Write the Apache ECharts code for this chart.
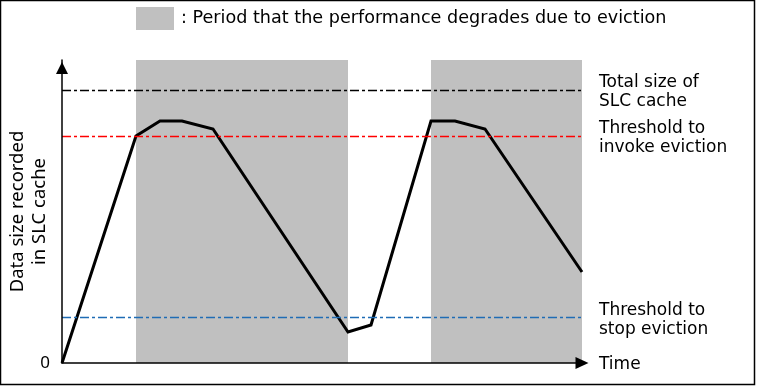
<!DOCTYPE html>
<html>
<head>
<meta charset="utf-8">
<script src="https://cdn.jsdelivr.net/npm/echarts@6/dist/echarts.min.js"></script>
<style>
html,body{margin:0;padding:0;background:#fff;}
#chart{width:757px;height:386px;}
</style>
</head>
<body>
<div id="chart"></div>
<script>
// Time (x) and data size recorded in SLC cache (y), in chart units
var timeValues = [0, 74, 98, 120, 151, 286, 309, 369, 393, 423, 520];
var dataSize   = [0, 227, 242, 242, 234, 31, 38, 242, 242, 234, 91];
// Periods where performance degrades due to eviction [start, end]
var evictionPeriods = [[74, 286], [369, 520]];
// Horizontal reference levels
var totalSizeLevel = 273;
var invokeLevel = 227;
var stopLevel = 46;
var legendText = ': Period that the performance degrades due to eviction';
var totalLabel = 'Total size of\nSLC cache';
var invokeLabel = 'Threshold to\ninvoke eviction';
var stopLabel = 'Threshold to\nstop eviction';
var xName = 'Time';
var yName = 'Data size recorded\nin SLC cache';
var xMax = 520, yMax = 303;

var FONT = 'Noto Sans';
var WIDE = 'DejaVu Sans';
var chart = echarts.init(document.getElementById('chart'), null, {renderer: 'canvas'});

var lineData = timeValues.map(function (t, i) { return [t, dataSize[i]]; });
var areaData = evictionPeriods.map(function (p) { return [{xAxis: p[0]}, {xAxis: p[1]}]; });

function ml(y, color, label, dy) {
  return {
    yAxis: y,
    lineStyle: {color: color, type: [9, 3, 3, 3], width: 1.4, opacity: 1},
    label: {show: true, position: 'end', formatter: label, distance: 17,
            color: '#000', fontSize: 17, lineHeight: 19, fontFamily: WIDE, align: 'left',
            offset: [0, dy]}
  };
}

chart.setOption({
  animation: false,
  textStyle: {fontFamily: FONT},
  graphic: [{
    type: 'rect', shape: {x: 0.5, y: 0.5, width: 754, height: 384},
    style: {fill: 'none', stroke: '#000', lineWidth: 1.5}, z: 100
  }],
  legend: {
    data: [legendText], left: 136, top: 7, icon: 'rect', padding: 0,
    itemWidth: 38, itemHeight: 23,
    textStyle: {fontSize: 17.6, color: '#000', fontFamily: WIDE, padding: [3, 0, 0, 2]}
  },
  grid: {left: 62, right: 175, top: 60, bottom: 23, containLabel: false, outerBoundsMode: 'none'},
  xAxis: {
    type: 'value', min: 0, max: xMax, z: 5,
    name: xName, nameLocation: 'end', nameGap: 17,
    nameTextStyle: {fontSize: 17, color: '#000', fontFamily: WIDE, verticalAlign: 'top', lineHeight: 19, padding: [-8, 0, 0, 0]},
    axisLine: {show: true, lineStyle: {color: '#000', width: 1.5}, symbol: ['none', 'triangle'], symbolSize: [12, 13]},
    axisTick: {show: false}, axisLabel: {show: false}, splitLine: {show: false}
  },
  yAxis: {
    type: 'value', min: 0, max: yMax, interval: yMax, z: 5,
    name: yName, nameLocation: 'middle', nameGap: 11, nameRotate: 90, nameMoveOverlap: false,
    nameTextStyle: {fontSize: 18.5, lineHeight: 22, color: '#000', fontFamily: FONT},
    axisLine: {show: true, lineStyle: {color: '#000', width: 1.5}, symbol: ['none', 'triangle'], symbolSize: [12, 12], symbolOffset: [0, -8]},
    axisTick: {show: false},
    axisLabel: {show: true, margin: 12, fontSize: 17, color: '#000', fontFamily: FONT,
      formatter: function (v) { return v === 0 ? '0' : ''; }},
    splitLine: {show: false}
  },
  series: [
    {
      name: legendText, type: 'line', data: [], z: 1,
      itemStyle: {color: '#c0c0c0'}, lineStyle: {color: '#c0c0c0'},
      markArea: {silent: true, itemStyle: {color: '#c0c0c0', opacity: 1}, data: areaData}
    },
    {
      name: 'levels', type: 'line', data: [], z: 3,
      markLine: {
        silent: true, symbol: ['none', 'none'],
        data: [ml(totalSizeLevel, '#000', totalLabel, 2), ml(invokeLevel, '#ff0000', invokeLabel, 2), ml(stopLevel, '#1f6cb5', stopLabel, 3)]
      }
    },
    {
      name: 'size', type: 'line', data: lineData, z: 4,
      showSymbol: false, symbol: 'none',
      lineStyle: {color: '#000', width: 3, join: 'miter'},
      clip: false
    }
  ]
});
</script>
</body>
</html>
